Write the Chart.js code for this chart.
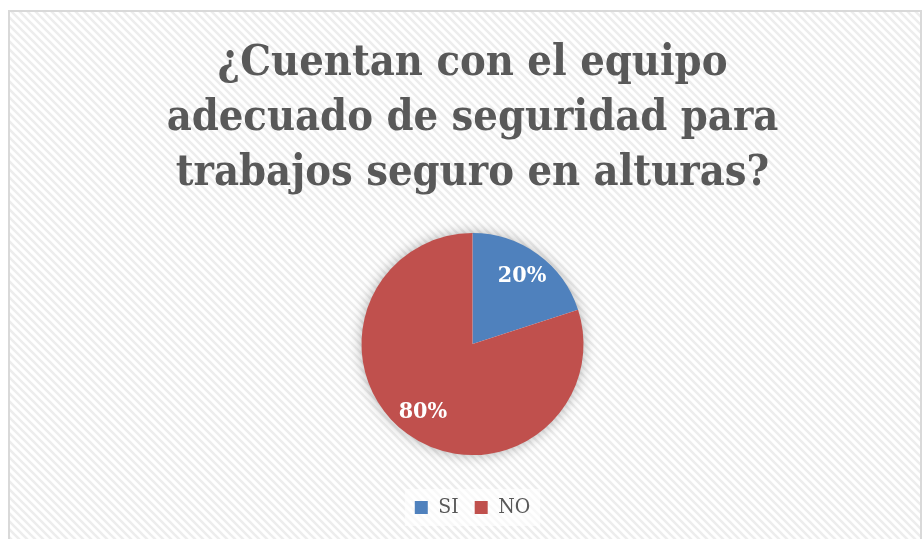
<!DOCTYPE html>
<html>
<head>
<meta charset="utf-8">
<script src="https://cdn.jsdelivr.net/npm/chart.js@4/dist/chart.umd.min.js"></script>
<style>
  html, body { margin: 0; padding: 0; background: #ffffff; }
  #wrap { width: 922px; height: 539px; position: relative; }
</style>
</head>
<body>
<div id="wrap"><canvas id="c" width="922" height="539"></canvas></div>
<script>
const categories = ['SI', 'NO'];
const values = [20, 80];
const seriesColors = ['#4F81BD', '#C0504D'];
const titleLines = ['¿Cuentan con el equipo', 'adecuado de seguridad para', 'trabajos seguro en alturas?'];

const SERIF = '"DejaVu Serif Condensed", "DejaVu Serif", serif';

function makePattern(ctx) {
  const p = document.createElement('canvas');
  p.width = 8; p.height = 8;
  const g = p.getContext('2d');
  g.fillStyle = '#ffffff';
  g.fillRect(0, 0, 8, 8);
  g.strokeStyle = '#ededed';
  g.lineWidth = 2.6;
  g.beginPath();
  g.moveTo(-2, -2); g.lineTo(10, 10);
  g.moveTo(-10, -2); g.lineTo(2, 10);
  g.moveTo(6, -2); g.lineTo(18, 10);
  g.stroke();
  return ctx.createPattern(p, 'repeat');
}

const backgroundPlugin = {
  id: 'bg',
  beforeDraw(chart) {
    const ctx = chart.ctx;
    ctx.save();
    ctx.fillStyle = '#ffffff';
    ctx.fillRect(0, 0, chart.width, chart.height);
    ctx.fillStyle = makePattern(ctx);
    ctx.fillRect(9, 11, chart.width + 10, chart.height + 10);
    ctx.strokeStyle = '#d9d9d9';
    ctx.lineWidth = 2;
    ctx.strokeRect(9, 11, 912, chart.height + 20);
    const lg = chart.legend;
    if (lg && lg.legendHitBoxes && lg.legendHitBoxes.length) {
      const hb = lg.legendHitBoxes;
      const x0 = Math.min(...hb.map(b => b.left)) - 10;
      const x1 = Math.max(...hb.map(b => b.left + b.width)) + 10;
      const y0 = Math.min(...hb.map(b => b.top)) - 8;
      const y1 = Math.max(...hb.map(b => b.top + b.height)) + 8;
      ctx.fillStyle = 'rgba(255,255,255,0.6)';
      ctx.fillRect(x0, y0, x1 - x0, y1 - y0);
    }
    ctx.restore();
  }
};

const shadowPlugin = {
  id: 'pieShadow',
  beforeDatasetsDraw(chart) {
    const meta = chart.getDatasetMeta(0);
    const arc = meta.data[0];
    if (!arc) return;
    const ctx = chart.ctx;
    ctx.save();
    ctx.shadowColor = 'rgba(0,0,0,0.35)';
    ctx.shadowBlur = 14;
    ctx.fillStyle = '#ffffff';
    ctx.beginPath();
    ctx.arc(arc.x, arc.y, arc.outerRadius - 1, 0, Math.PI * 2);
    ctx.fill();
    ctx.restore();
  }
};

const labelPlugin = {
  id: 'sliceLabels',
  afterDatasetsDraw(chart) {
    const ctx = chart.ctx;
    const meta = chart.getDatasetMeta(0);
    const data = chart.data.datasets[0].data;
    const total = data.reduce((a, b) => a + b, 0);
    ctx.save();
    ctx.fillStyle = '#ffffff';
    ctx.font = 'bold 23px ' + SERIF;
    ctx.textAlign = 'center';
    ctx.textBaseline = 'middle';
    meta.data.forEach((arc, i) => {
      const mid = (arc.startAngle + arc.endAngle) / 2;
      const r = arc.outerRadius * 0.76;
      const x = arc.x + Math.cos(mid) * r;
      const y = arc.y + Math.sin(mid) * r;
      ctx.fillText(Math.round(data[i] / total * 100) + '%', x, y);
    });
    ctx.restore();
  }
};

new Chart(document.getElementById('c'), {
  type: 'pie',
  data: {
    labels: categories,
    datasets: [{
      data: values,
      backgroundColor: seriesColors,
      borderWidth: 0
    }]
  },
  options: {
    responsive: false,
    animation: false,
    devicePixelRatio: 1,
    radius: 111,
    layout: { padding: { left: 23, right: 0, top: 0, bottom: 11 } },
    plugins: {
      title: {
        display: true,
        text: titleLines,
        color: '#595959',
        font: { family: SERIF, size: 43, weight: 'bold', lineHeight: 1.28 },
        padding: { top: 36, bottom: 6 }
      },
      legend: {
        display: true,
        position: 'bottom',
        labels: {
          boxWidth: 13,
          boxHeight: 13,
          color: '#595959',
          font: { family: SERIF, size: 21 },
          padding: 16
        }
      },
      tooltip: { enabled: false }
    }
  },
  plugins: [backgroundPlugin, shadowPlugin, labelPlugin]
});
</script>
</body>
</html>
